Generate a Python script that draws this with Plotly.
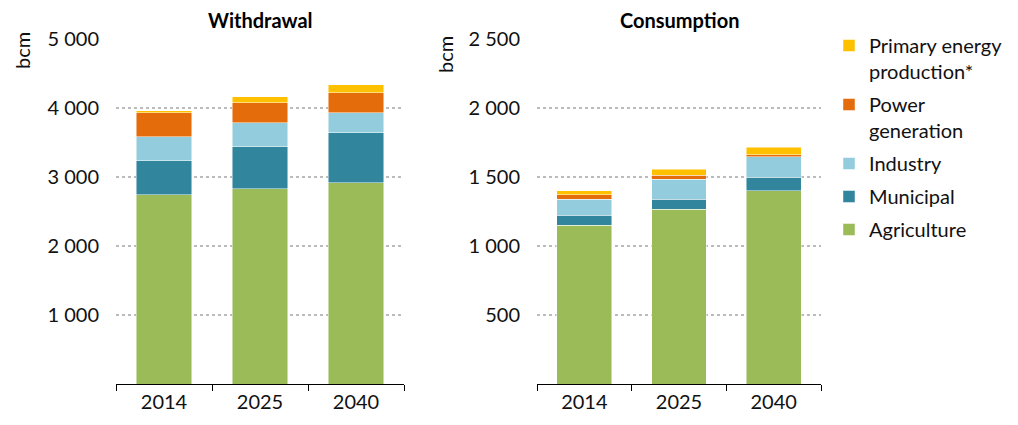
import plotly.graph_objects as go

years = ["2014", "2025", "2040"]
series_names = ["Agriculture", "Municipal", "Industry", "Power<br>generation", "Primary energy<br>production*"]
colors = ["#9BBB59", "#31859C", "#93CDDD", "#E46C0A", "#FFC000"]

withdrawal = {
    "Agriculture": [2745, 2830, 2917],
    "Municipal": [493, 609, 725],
    "Industry": [348, 348, 290],
    "Power<br>generation": [348, 290, 290],
    "Primary energy<br>production*": [25, 87, 116],
}
consumption = {
    "Agriculture": [1150, 1266, 1399],
    "Municipal": [72, 72, 99],
    "Industry": [116, 145, 147],
    "Power<br>generation": [34, 31, 17],
    "Primary energy<br>production*": [27, 42, 52],
}

w_tickvals = [1000, 2000, 3000, 4000, 5000]
w_ticktext = ["1 000", "2 000", "3 000", "4 000", "5 000"]
c_tickvals = [500, 1000, 1500, 2000, 2500]
c_ticktext = ["500", "1 000", "1 500", "2 000", "2 500"]

FONT = "Lato"
OFF = 8            # page body margin
W, H = 1018 - OFF, 425 - OFF
TOP, BOT = 39 - OFF, 425 - 384
PH = H - TOP - BOT


def px(x):
    return (x - OFF) / W


def py(y):
    return (H - BOT - (y - OFF)) / PH


fig = go.Figure()
n = len(series_names)
for i, name in enumerate(series_names):
    common = dict(name=name, marker_color=colors[i],
                  marker_line=dict(color="rgba(255,255,255,0.6)", width=0.8),
                  legendgroup=name, legendrank=n - i)
    fig.add_trace(go.Bar(x=years, y=withdrawal[name], xaxis="x", yaxis="y",
                         showlegend=True, **common))
    fig.add_trace(go.Bar(x=years, y=consumption[name], xaxis="x2", yaxis="y2",
                         showlegend=False, **common))

xaxis_common = dict(
    showline=True, linecolor="black", linewidth=1.3,
    ticks="outside", tickson="boundaries", ticklen=6, tickcolor="black", tickwidth=1.3,
    showgrid=False, tickfont=dict(family=FONT, size=20, color="#111"),
)
yaxis_common = dict(
    showline=False, ticks="", showgrid=True, gridcolor="#BBBBBB", griddash="dot",
    gridwidth=1.5, zeroline=False, tickfont=dict(family=FONT, size=20, color="#111"),
    ticklabelstandoff=16,
)

ann_common = dict(xref="paper", yref="paper", showarrow=False,
                  xanchor="center", yanchor="middle")

fig.update_layout(
    width=W, height=H,
    margin=dict(l=0, r=0, t=TOP, b=BOT),
    paper_bgcolor="white", plot_bgcolor="white",
    barmode="stack", bargap=0.42,
    xaxis=dict(domain=[px(116), px(404)], anchor="y", **xaxis_common),
    xaxis2=dict(domain=[px(537), px(821)], anchor="y2", **xaxis_common),
    yaxis=dict(range=[0, 5000], tickvals=w_tickvals, ticktext=w_ticktext, anchor="x", **yaxis_common),
    yaxis2=dict(range=[0, 2500], tickvals=c_tickvals, ticktext=c_ticktext, anchor="x2", **yaxis_common),
    legend=dict(
        x=px(829), y=py(26), xanchor="left", yanchor="top", maxheight=1,
        traceorder="grouped", tracegroupgap=4, valign="top",
        font=dict(family=FONT, size=20, color="#111"), bgcolor="rgba(0,0,0,0)",
    ),
    showlegend=True,
    annotations=[
        dict(text="<b>Withdrawal</b>", x=px(260), y=py(20),
             font=dict(family=FONT, size=20, color="black"), **ann_common),
        dict(text="<b>Consumption</b>", x=px(679), y=py(20),
             font=dict(family=FONT, size=20, color="black"), **ann_common),
        dict(text="bcm", x=px(22), y=py(51), textangle=-90,
             font=dict(family=FONT, size=20, color="#111"), **ann_common),
        dict(text="bcm", x=px(445), y=py(55), textangle=-90,
             font=dict(family=FONT, size=20, color="#111"), **ann_common),
    ],
)

fig.write_html("out.html")
